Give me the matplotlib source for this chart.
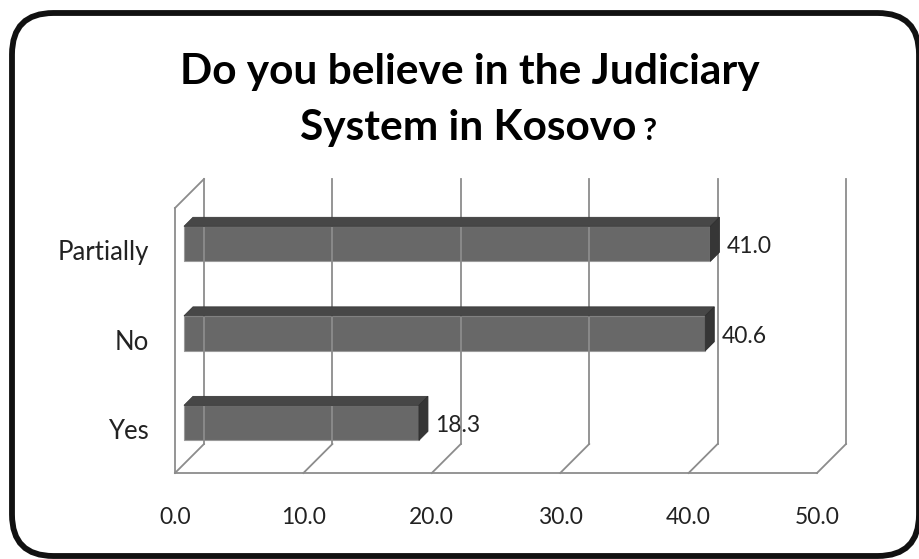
import matplotlib
matplotlib.use("Agg")
import matplotlib.pyplot as plt
from matplotlib.patches import Polygon, FancyBboxPatch
from matplotlib.transforms import ScaledTranslation

# ---- data ----
categories = ["Yes", "No", "Partially"]
values = [18.3, 40.6, 41.0]
value_labels = ["18.3", "40.6", "41.0"]
xticks = [0, 10, 20, 30, 40, 50]
xtick_labels = ["0.0", "10.0", "20.0", "30.0", "40.0", "50.0"]
title_line1 = "Do you believe in the Judiciary"
title_line2 = "System in Kosovo"

W, H, DPI = 920, 559, 100
fig = plt.figure(figsize=(W / DPI, H / DPI), dpi=DPI)
fig.patch.set_facecolor("white")

FONT = "Lato"

# axes = front plane of the 3D box (pixel placement)
x0, x1 = 175, 817
ytop, ybot = 208, 473
ax = fig.add_axes([x0 / W, (H - ybot) / H, (x1 - x0) / W, (ybot - ytop) / H])
ax.set_xlim(0, 50)
ax.set_ylim(-0.46, 2.5)
ax.axis("off")

DEPTH = 29  # pixels of depth offset (right & up)


def shifted(d):
    """transData shifted by depth fraction d."""
    px = DEPTH * d
    return ax.transData + ScaledTranslation(px / DPI, px / DPI, fig.dpi_scale_trans)


grid_c = "#8c8c8c"
ylo, yhi = ax.get_ylim()

# back wall vertical gridlines
for t in xticks:
    ax.plot([t, t], [ylo, yhi], color=grid_c, lw=1.3, transform=shifted(1), clip_on=False)

# floor: front line + diagonals
ax.plot([0, 50], [ylo, ylo], color=grid_c, lw=1.3, transform=shifted(0), clip_on=False)
tr0 = shifted(0)
tr1 = shifted(1)
for t in xticks:
    p0 = tr0.transform((t, ylo))
    p1 = tr1.transform((t, ylo))
    fig.add_artist(plt.Line2D([p0[0] / W, p1[0] / W], [p0[1] / H, p1[1] / H],
                              color=grid_c, lw=1.3, transform=fig.transFigure))

# left wall: front vertical + top diagonal
ax.plot([0, 0], [ylo, yhi], color=grid_c, lw=1.3, transform=shifted(0), clip_on=False)
p0 = tr0.transform((0, yhi))
p1 = tr1.transform((0, yhi))
fig.add_artist(plt.Line2D([p0[0] / W, p1[0] / W], [p0[1] / H, p1[1] / H],
                          color=grid_c, lw=1.3, transform=fig.transFigure))

# bars (3D)
d_front, d_back = 0.31, 0.62
bh = 0.195
front_c, top_c, side_c = "#686868", "#474747", "#363636"
inv = fig.transFigure.inverted()
for i, v in enumerate(values):
    tf = shifted(d_front)
    pa = tf.transform([(0, i + bh), (v, i + bh), (v, i - bh)])
    pb = shifted(d_back).transform([(0, i + bh), (v, i + bh), (v, i - bh)])
    top = Polygon(inv.transform([pa[0], pa[1], pb[1], pb[0]]), closed=True,
                  facecolor=top_c, edgecolor="#3a3a3a", lw=0.6, transform=fig.transFigure)
    fig.add_artist(top)
    side = Polygon(inv.transform([pa[1], pb[1], pb[2], pa[2]]), closed=True,
                   facecolor=side_c, edgecolor="#2e2e2e", lw=0.6, transform=fig.transFigure)
    fig.add_artist(side)
    ax.barh(i, v, height=2 * bh, color=front_c, edgecolor="#9a9a9a", lw=0.8,
            transform=tf, clip_on=False)
    ax.text(v, i, value_labels[i],
            transform=ax.transData + ScaledTranslation(25 / DPI, 6 / DPI, fig.dpi_scale_trans),
            ha="left", va="center", fontsize=16.5, family=FONT, color="#222222")

# category labels
for i, c in enumerate(categories):
    ax.text(0, i, c, transform=ax.transData + ScaledTranslation(-26 / DPI, 0, fig.dpi_scale_trans),
            ha="right", va="center", fontsize=18.5, family=FONT, color="#222222")

# x tick labels
for t, lab in zip(xticks, xtick_labels):
    ax.text(t, ylo, lab, transform=ax.transData + ScaledTranslation(0, -44 / DPI, fig.dpi_scale_trans),
            ha="center", va="center", fontsize=16.5, family=FONT, color="#222222")

# title
fig.text(470 / W, 1 - 72 / H, title_line1, ha="center", va="center",
         fontsize=30.5, fontweight="bold", family=FONT, color="black")
fig.text(468 / W, 1 - 128 / H, title_line2, ha="center", va="center",
         fontsize=30.5, fontweight="bold", family=FONT, color="black")
fig.text(650 / W, 1 - 131 / H, "?", ha="center", va="center",
         fontsize=22, fontweight="bold", family=FONT, color="black")

# rounded border
border = FancyBboxPatch((12 / W, 1 - 556 / H), 907 / W, 543 / H,
                        boxstyle="round,pad=0,rounding_size=0.045",
                        transform=fig.transFigure, facecolor="none",
                        edgecolor="#111111", lw=4.2, mutation_aspect=W / H)
fig.add_artist(border)

fig.savefig("out.png", dpi=DPI, facecolor="white")
